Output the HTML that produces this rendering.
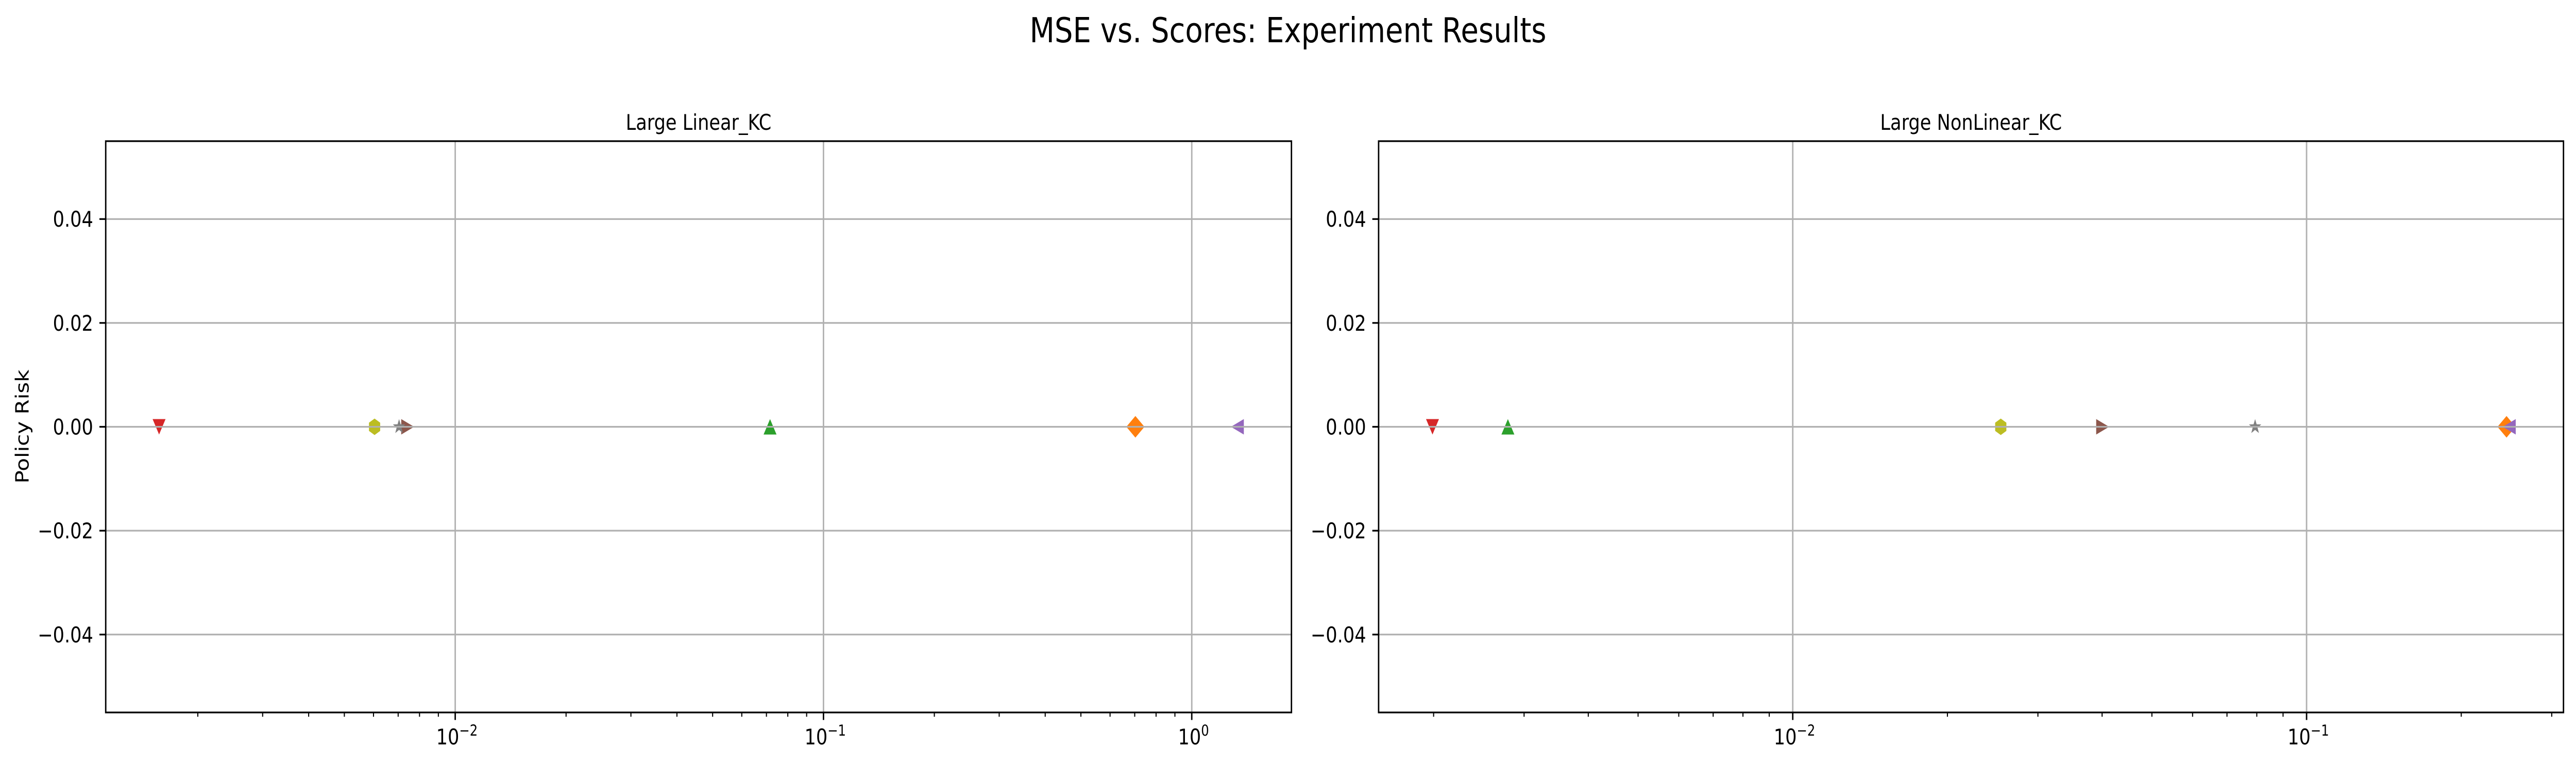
<!DOCTYPE html>
<html><head><meta charset="utf-8">
<meta name="viewport" content="width=5970, initial-scale=1">
<style>
html,body{margin:0;padding:0;background:#fff;width:100%;height:100%;overflow:hidden;}
svg{display:block;width:100vw;height:100vh;}
text{font-family:"DejaVu Sans","Liberation Sans",sans-serif;fill:#000;}
</style></head>
<body>
<svg id="fig" viewBox="0 0 5970 1485" preserveAspectRatio="none" xmlns="http://www.w3.org/2000/svg">
<rect width="5970" height="1485" fill="#fff"/>
<text x="2985" y="82" font-size="67" text-anchor="middle">MSE vs. Scores: Experiment Results</text>
<text x="0" y="0" font-size="42" text-anchor="middle" transform="translate(66,828) rotate(-90)">Policy Risk</text>
</svg>
<script>
const methods = ["red","orange","green","purple","brown","gray","olive"];
const markerKinds = ["v","D","^","<",">","*","h"];
const colors = ["#d62728","#ff7f0e","#2ca02c","#9467bd","#8c564b","#7f7f7f","#bcbd22"];
const leftMSE = [0.00157, 0.703, 0.0716, 1.33, 0.00743, 0.00704, 0.00604];
const leftRisk = [0, 0, 0, 0, 0, 0, 0];
const rightMSE = [0.00199, 0.245, 0.00279, 0.248, 0.0401, 0.0794, 0.0254];
const rightRisk = [0, 0, 0, 0, 0, 0, 0];
const yTicks = [-0.04, -0.02, 0, 0.02, 0.04];
const yTickLabels = ["\u22120.04","\u22120.02","0.00","0.02","0.04"];
const leftXDecades = [-2, -1, 0];
const rightXDecades = [-2, -1];
const superLabels = {"-2":"\u22122","-1":"\u22121","0":"0"};

const NS = "http://www.w3.org/2000/svg";
const svg = document.getElementById("fig");
function mk(tag, attrs, parent){
  const e = document.createElementNS(NS, tag);
  for (const k in attrs) e.setAttribute(k, attrs[k]);
  (parent||svg).appendChild(e); return e;
}
function markerPath(kind, cx, cy){
  const r = 15;
  if (kind==="v") return `M${cx-r},${cy-r}L${cx+r},${cy-r}L${cx},${cy+r}Z`;
  if (kind==="^") return `M${cx-r},${cy+r}L${cx+r},${cy+r}L${cx},${cy-r}Z`;
  if (kind==="<") return `M${cx-r},${cy}L${cx+r},${cy-r}L${cx+r},${cy+r}Z`;
  if (kind===">") return `M${cx+r},${cy}L${cx-r},${cy-r}L${cx-r},${cy+r}Z`;
  if (kind==="D") { const d=21; return `M${cx},${cy-d}L${cx+d},${cy}L${cx},${cy+d}L${cx-d},${cy}Z`; }
  if (kind==="h") { let p=""; for(let i=0;i<6;i++){const a=Math.PI/2+i*Math.PI/3; p+=(i?"L":"M")+(cx+15*Math.cos(a))+","+(cy-16*Math.sin(a));} return p+"Z"; }
  if (kind==="*") { let p=""; for(let i=0;i<10;i++){const a=Math.PI/2+i*Math.PI/5; const rr=i%2?6:15; p+=(i?"L":"M")+(cx+rr*Math.cos(a))+","+(cy-rr*Math.sin(a));} return p+"Z"; }
}

function panel(opt){
  const {name,title,x0,x1,lmin,lmax,mse,risk,decades} = opt;
  const y0 = 274, y1 = 1383, ymin = -0.055, ymax = 0.055;
  const g = mk("g", { });
  const X = v => x0 + (Math.log10(v)-lmin)/(lmax-lmin)*(x1-x0);
  const Y = v => y1 - (v-ymin)/(ymax-ymin)*(y1-y0);
  const mg = mk("g", {}, g);
  for (let i=0;i<mse.length;i++){
    const p = mk("path", {d: markerPath(markerKinds[i], X(mse[i]), Y(risk[i])), fill: colors[i]}, mg);
    
    
  }
  const gg = mk("g", { stroke:"#b0b0b0","stroke-width":"3.3"}, g);
  for (const t of yTicks){ mk("line",{x1:x0,x2:x1,y1:Y(t),y2:Y(t)},gg); }
  for (const d of decades){ const xx=X(Math.pow(10,d)); mk("line",{x1:xx,x2:xx,y1:y0,y2:y1},gg); }
  yTicks.forEach((t,i)=>{
    mk("line",{x1:x0-14.6,x2:x0,y1:Y(t),y2:Y(t),stroke:"#000","stroke-width":"3.3"},g);
    const tx = mk("text",{x:x0-29,y:Y(t)+15,"font-size":"42","text-anchor":"end"},g);
    tx.textContent = yTickLabels[i];
    
    
  });
  for (let d=Math.floor(lmin); d<=Math.ceil(lmax); d++){
    for (let m=1;m<10;m++){
      const v = m*Math.pow(10,d); const lv=Math.log10(v);
      if (lv<lmin-1e-9 || lv>lmax+1e-9) continue;
      const xx = X(v);
      mk("line",{x1:xx,x2:xx,y1:y1,y2:y1+(m===1?14.6:8.3),stroke:"#000","stroke-width":m===1?"3.3":"2.5"},g);
    }
  }
  for (const d of decades){
    const xx = X(Math.pow(10,d));
    const tx = mk("text",{x:xx+4,y:1445,"font-size":"42","text-anchor":"middle"},g);
    
    
    const a = document.createElementNS(NS,"tspan"); a.textContent="10"; tx.appendChild(a);
    const b = document.createElementNS(NS,"tspan"); b.setAttribute("font-size","29"); b.setAttribute("dy","-17"); b.textContent=superLabels[String(d)]; tx.appendChild(b);
  }
  mk("rect",{x:x0,y:y0,width:x1-x0,height:y1-y0,fill:"none",stroke:"#000","stroke-width":"3.3",},g);
  const tt = mk("text",{x:(x0+x1)/2,y:252,"font-size":"42","text-anchor":"middle"},g);
  tt.textContent = title;
  
  
}
panel({name:"left-panel",title:"Large Linear_KC",x0:245,x1:2993,lmin:-2.949,lmax:0.2707,mse:leftMSE,risk:leftRisk,decades:leftXDecades});
panel({name:"right-panel",title:"Large NonLinear_KC",x0:3195,x1:5941,lmin:-2.806,lmax:-0.500,mse:rightMSE,risk:rightRisk,decades:rightXDecades});
</script>
</body></html>
